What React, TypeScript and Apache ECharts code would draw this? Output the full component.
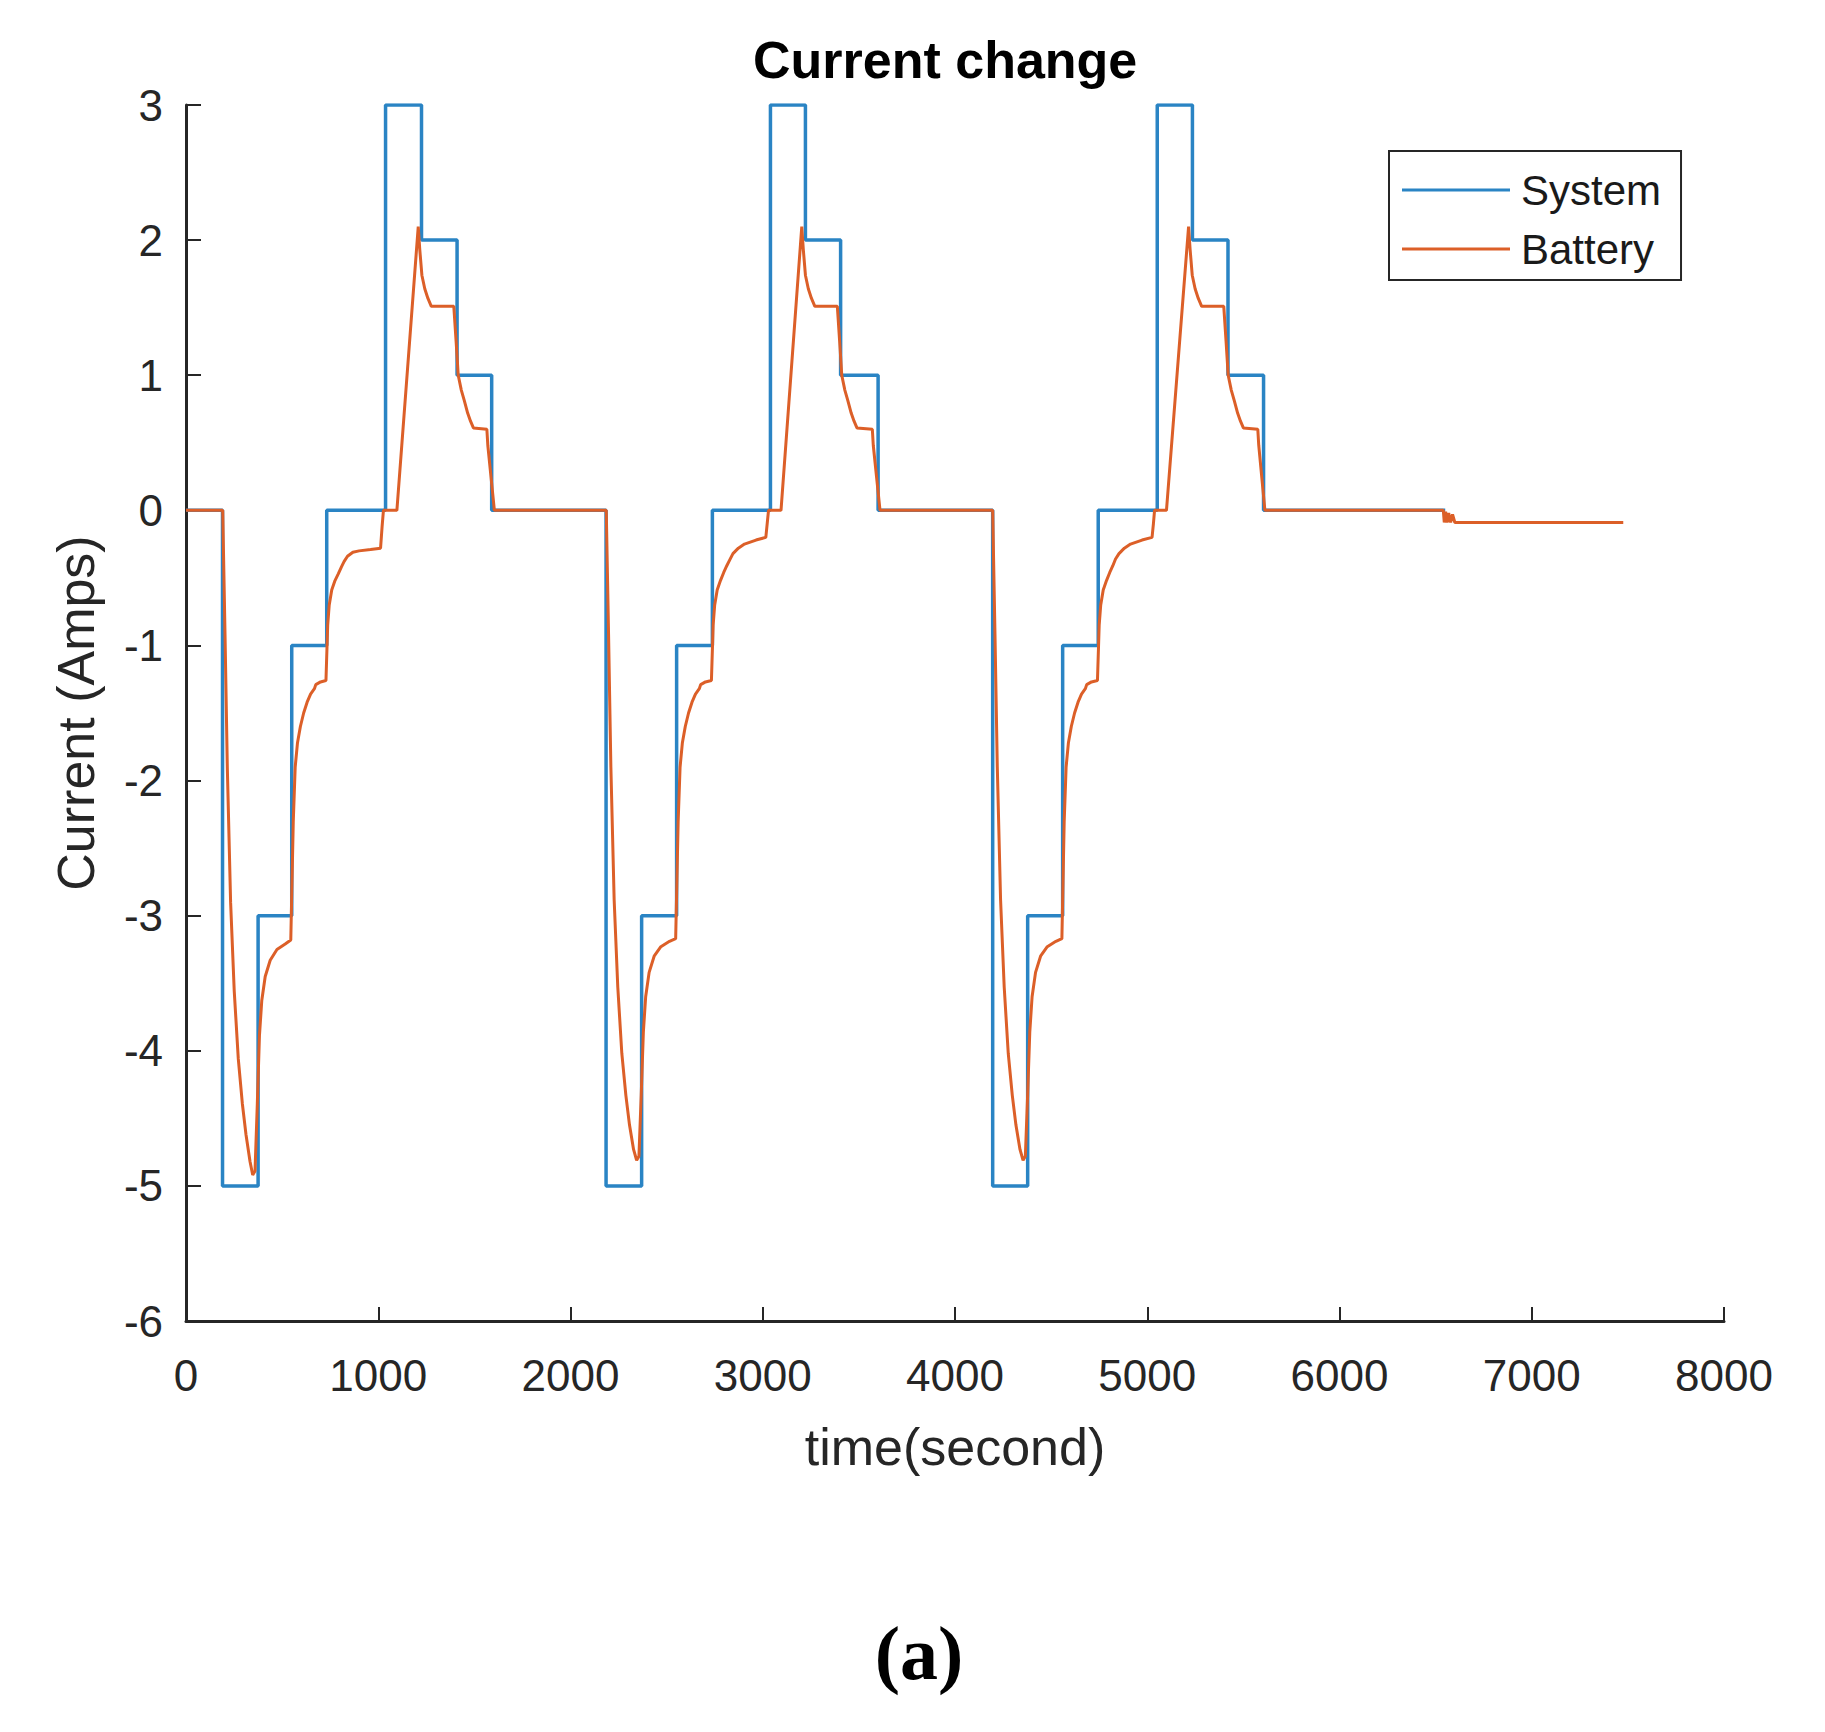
import React, { useEffect, useRef } from "react";
import * as echarts from "echarts";

// ---- Data ----
const chartTitle = "Current change";
const xAxisName = "time(second)";
const yAxisName = "Current (Amps)";
const seriesNames = ["System", "Battery"];

// System current: change points (value holds until next time)
const systemTime = [
  0, 190, 375, 550, 732, 1038, 1225, 1410, 1590,
  2185, 2370, 2552, 2738, 3040, 3222, 3405, 3600,
  4196, 4378, 4560, 4745, 5052, 5235, 5420, 5605,
  6550,
];
const systemCurrent = [
  0, -5, -3, -1, 0, 3, 2, 1, 0,
  -5, -3, -1, 0, 3, 2, 1, 0,
  -5, -3, -1, 0, 3, 2, 1, 0,
  0,
];

// Battery current samples
const batteryTime = [
  0, 191, 203, 215, 232, 251, 272, 293, 312, 333, 347, 359, 371, 382, 394, 412, 438, 473, 516, 545,
  558, 568, 580, 595, 612, 630, 648, 668, 675, 700, 728,
  737, 745, 758, 775, 792, 808, 822, 840, 868, 900, 960, 1012, 1020, 1027,
  1097, 1208, 1216, 1227, 1242, 1258, 1276, 1393, 1405, 1416, 1432, 1448, 1465, 1480, 1495, 1565, 1570, 1604,
  2186, 2198, 2210, 2227, 2246, 2267, 2288, 2307, 2328, 2344, 2356, 2368, 2379, 2391, 2409, 2435, 2470, 2515, 2547,
  2560, 2570, 2582, 2597, 2614, 2632, 2650, 2670, 2677, 2702, 2733,
  2742, 2750, 2763, 2780, 2797, 2813, 2827, 2845, 2873, 2905, 2965, 3016, 3023, 3030,
  3095, 3203, 3211, 3222, 3237, 3253, 3271, 3388, 3400, 3411, 3427, 3443, 3460, 3475, 3490, 3570, 3575, 3610,
  4196, 4208, 4220, 4237, 4256, 4277, 4298, 4317, 4338, 4354, 4366, 4378, 4389, 4401, 4419, 4445, 4480, 4525, 4556,
  4568, 4578, 4590, 4605, 4622, 4640, 4658, 4678, 4685, 4710, 4741,
  4750, 4758, 4771, 4788, 4805, 4821, 4835, 4853, 4881, 4913, 4973, 5025, 5032, 5038,
  5100, 5215, 5223, 5234, 5249, 5265, 5283, 5398, 5410, 5421, 5437, 5453, 5470, 5485, 5500, 5575, 5580, 5612,
  6540, 6545, 6552, 6560, 6568, 6578, 6588, 6600, 6615, 7476,
];
const batteryCurrent = [
  0, 0, -0.92, -1.91, -2.9, -3.56, -4.06, -4.39, -4.62, -4.82, -4.92, -4.89, -4.39, -3.89, -3.63, -3.45, -3.33, -3.25, -3.21, -3.18,
  -2.3, -1.9, -1.72, -1.6, -1.5, -1.42, -1.36, -1.32, -1.29, -1.27, -1.26,
  -0.85, -0.7, -0.59, -0.52, -0.47, -0.42, -0.38, -0.34, -0.31, -0.3, -0.29, -0.28, -0.12, 0,
  0, 2.1, 1.93, 1.74, 1.64, 1.57, 1.51, 1.51, 1.25, 1.0, 0.89, 0.81, 0.72, 0.66, 0.61, 0.6, 0.48, 0,
  0, -0.92, -1.9, -2.88, -3.53, -4.02, -4.33, -4.55, -4.73, -4.81, -4.78, -4.32, -3.86, -3.6, -3.42, -3.3, -3.23, -3.19, -3.17,
  -2.3, -1.9, -1.72, -1.6, -1.5, -1.42, -1.36, -1.32, -1.29, -1.27, -1.26,
  -0.85, -0.7, -0.59, -0.52, -0.46, -0.41, -0.37, -0.32, -0.28, -0.25, -0.22, -0.2, -0.1, 0,
  0, 2.1, 1.93, 1.74, 1.64, 1.57, 1.51, 1.51, 1.25, 1.0, 0.89, 0.81, 0.72, 0.66, 0.61, 0.6, 0.48, 0,
  0, -0.92, -1.9, -2.88, -3.53, -4.02, -4.33, -4.55, -4.73, -4.81, -4.78, -4.32, -3.86, -3.6, -3.42, -3.3, -3.23, -3.19, -3.17,
  -2.3, -1.9, -1.72, -1.6, -1.5, -1.42, -1.36, -1.32, -1.29, -1.27, -1.26,
  -0.85, -0.7, -0.59, -0.52, -0.46, -0.41, -0.36, -0.32, -0.28, -0.25, -0.22, -0.2, -0.1, 0,
  0, 2.1, 1.93, 1.74, 1.64, 1.57, 1.51, 1.51, 1.25, 1.0, 0.89, 0.81, 0.72, 0.66, 0.61, 0.6, 0.48, 0,
  0, -0.09, -0.01, -0.09, -0.02, -0.09, -0.03, -0.09, -0.09, -0.09,
];

const xMin = 0;
const xMax = 8000;
const xInterval = 1000;
const yMin = -6;
const yMax = 3;
const yInterval = 1;
const panelLabel = "(a)";

const FONT = '"Liberation Sans", Arial, Helvetica, sans-serif';
const AXIS_COLOR = "#262626";
const SYSTEM_COLOR = "#2a84c4";
const BATTERY_COLOR = "#dc5f28";

export default function App() {
  const ref = useRef<HTMLDivElement>(null);

  useEffect(() => {
    if (!ref.current) return;
    const chart = echarts.init(ref.current, undefined, { renderer: "svg" });

    const systemData = systemTime.map((t, i) => [t, systemCurrent[i]]);
    const batteryData = batteryTime.map((t, i) => [t, batteryCurrent[i]]);

    chart.setOption({
      animation: false,
      backgroundColor: "#ffffff",
      title: {
        text: chartTitle,
        left: 748,
        top: 29,
        textStyle: { fontSize: 52, fontWeight: "bold", fontFamily: FONT, color: "#000" },
      },
      legend: {
        data: [
          { name: seriesNames[0], icon: "rect", itemStyle: { color: SYSTEM_COLOR } },
          { name: seriesNames[1], icon: "rect", itemStyle: { color: BATTERY_COLOR } },
        ],
        orient: "vertical",
        left: 1389,
        top: 151,
        itemWidth: 108,
        itemHeight: 3,
        itemGap: 17,
        padding: [18, 20, 10, 13],
        borderColor: AXIS_COLOR,
        borderWidth: 2,
        backgroundColor: "#fff",
        textStyle: { fontSize: 42, lineHeight: 42, fontFamily: FONT, color: "#1a1a1a", padding: [0, 0, 0, 6] },
      },
      grid: { left: 186, right: 101, top: 105, bottom: 411, containLabel: false },
      xAxis: {
        type: "value",
        min: xMin,
        max: xMax,
        interval: xInterval,
        name: xAxisName,
        nameLocation: "middle",
        nameGap: 100,
        nameTextStyle: { fontSize: 52, fontFamily: FONT, color: AXIS_COLOR },
        axisLine: { show: true, onZero: false, lineStyle: { color: AXIS_COLOR, width: 3 } },
        axisTick: { show: true, inside: true, length: 14, lineStyle: { color: AXIS_COLOR, width: 2 } },
        axisLabel: {
          fontSize: 44,
          margin: 32,
          fontFamily: FONT,
          color: AXIS_COLOR,
          formatter: (v: number) => String(v),
        },
        splitLine: { show: false },
      },
      yAxis: {
        type: "value",
        min: yMin,
        max: yMax,
        interval: yInterval,
        name: yAxisName,
        nameLocation: "middle",
        nameGap: 84,
        nameRotate: 90,
        nameTextStyle: { fontSize: 52, fontFamily: FONT, color: AXIS_COLOR },
        axisLine: { show: true, onZero: false, lineStyle: { color: AXIS_COLOR, width: 3 } },
        axisTick: { show: true, inside: true, length: 15, lineStyle: { color: AXIS_COLOR, width: 2 } },
        axisLabel: {
          fontSize: 44,
          margin: 23,
          fontFamily: FONT,
          color: AXIS_COLOR,
          formatter: (v: number) => String(v),
        },
        splitLine: { show: false },
      },
      series: [
        {
          name: seriesNames[0],
          type: "line",
          step: "end",
          data: systemData,
          symbol: "none",
          showSymbol: false,
          lineStyle: { color: SYSTEM_COLOR, width: 3.5 },
          itemStyle: { color: SYSTEM_COLOR },
        },
        {
          name: seriesNames[1],
          type: "line",
          data: batteryData,
          symbol: "none",
          showSymbol: false,
          lineStyle: { color: BATTERY_COLOR, width: 3 },
          itemStyle: { color: BATTERY_COLOR },
        },
      ],
      graphic: [
        {
          type: "text",
          x: 919,
          y: 1653,
          style: {
            text: panelLabel,
            font: 'bold 76px "Liberation Serif", "Times New Roman", serif',
            fill: "#000",
            align: "center",
            verticalAlign: "middle",
          },
        },
      ],
    });

    return () => chart.dispose();
  }, []);

  return (
    <div
      ref={ref}
      style={{ position: "absolute", left: 0, top: 0, width: 1825, height: 1732, background: "#fff" }}
    />
  );
}
